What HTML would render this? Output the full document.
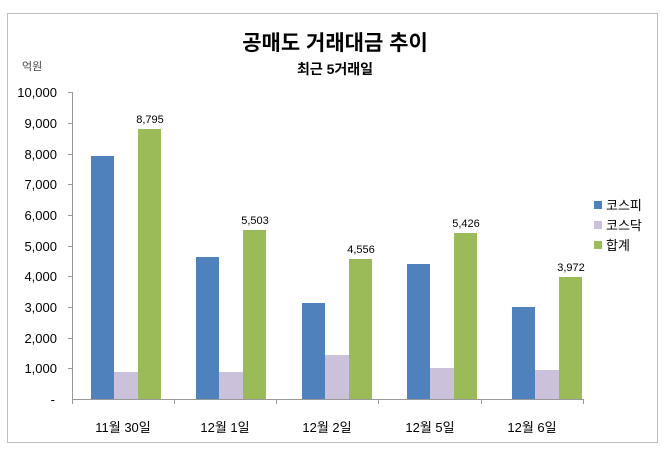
<!DOCTYPE html><html><head><meta charset="utf-8"><style>
body{margin:0;background:#fff;}
text{font-family:"Liberation Sans","Noto Sans CJK KR",sans-serif;}
</style></head><body>
<svg width="670" height="452" xmlns="http://www.w3.org/2000/svg">
<rect x="0" y="0" width="670" height="452" fill="#fff"/>
<rect x="7.5" y="13.5" width="650" height="429" fill="#fff" stroke="#bdbdbd" stroke-width="1"/>
<text x="335" y="50" text-anchor="middle" font-size="21" font-weight="bold" fill="#000">공매도 거래대금 추이</text>
<text x="335" y="74" text-anchor="middle" font-size="14" font-weight="bold" fill="#000">최근 5거래일</text>
<text x="22" y="70" font-size="11" fill="#444">억원</text>
<g stroke="#999" stroke-width="1">
<line x1="72.5" y1="92" x2="72.5" y2="399"/>
<line x1="72" y1="399.5" x2="583" y2="399.5"/>
<line x1="68" y1="92.5" x2="72" y2="92.5"/><line x1="68" y1="123.5" x2="72" y2="123.5"/><line x1="68" y1="154.5" x2="72" y2="154.5"/><line x1="68" y1="184.5" x2="72" y2="184.5"/><line x1="68" y1="215.5" x2="72" y2="215.5"/><line x1="68" y1="246.5" x2="72" y2="246.5"/><line x1="68" y1="276.5" x2="72" y2="276.5"/><line x1="68" y1="307.5" x2="72" y2="307.5"/><line x1="68" y1="338.5" x2="72" y2="338.5"/><line x1="68" y1="368.5" x2="72" y2="368.5"/>
<line x1="174.5" y1="399" x2="174.5" y2="404"/><line x1="276.5" y1="399" x2="276.5" y2="404"/><line x1="378.5" y1="399" x2="378.5" y2="404"/><line x1="481.5" y1="399" x2="481.5" y2="404"/><line x1="583.5" y1="399" x2="583.5" y2="404"/><line x1="72.5" y1="399" x2="72.5" y2="404"/>
</g>
<g font-size="13" fill="#000" text-anchor="end">
<text x="57" y="97">10,000</text><text x="57" y="128">9,000</text><text x="57" y="159">8,000</text><text x="57" y="189">7,000</text><text x="57" y="220">6,000</text><text x="57" y="251">5,000</text><text x="57" y="281">4,000</text><text x="57" y="312">3,000</text><text x="57" y="343">2,000</text><text x="57" y="373">1,000</text><text x="55" y="404">-</text>
</g>
<g>
<rect x="91" y="156" width="23" height="243" fill="#4f81bd"/><rect x="114" y="372" width="24" height="27" fill="#ccc1da"/><rect x="138" y="129" width="23" height="270" fill="#9bbb59"/>
<rect x="196" y="257" width="23" height="142" fill="#4f81bd"/><rect x="219" y="372" width="24" height="27" fill="#ccc1da"/><rect x="243" y="230" width="23" height="169" fill="#9bbb59"/>
<rect x="302" y="303" width="23" height="96" fill="#4f81bd"/><rect x="325" y="355" width="24" height="44" fill="#ccc1da"/><rect x="349" y="259" width="23" height="140" fill="#9bbb59"/>
<rect x="407" y="264" width="23" height="135" fill="#4f81bd"/><rect x="430" y="368" width="24" height="31" fill="#ccc1da"/><rect x="454" y="233" width="23" height="166" fill="#9bbb59"/>
<rect x="512" y="307" width="23" height="92" fill="#4f81bd"/><rect x="535" y="370" width="24" height="29" fill="#ccc1da"/><rect x="559" y="277" width="23" height="122" fill="#9bbb59"/>
</g>
<g font-size="11" fill="#000" text-anchor="middle">
<text x="150" y="123">8,795</text><text x="255" y="224">5,503</text><text x="361" y="253">4,556</text><text x="466" y="227">5,426</text><text x="571" y="271">3,972</text>
</g>
<g font-size="13" fill="#000" text-anchor="middle">
<text x="123" y="432">11월 30일</text><text x="225" y="432">12월 1일</text><text x="327" y="432">12월 2일</text><text x="430" y="432">12월 5일</text><text x="532" y="432">12월 6일</text>
</g>
<rect x="594" y="201" width="8" height="8" fill="#4f81bd"/><text x="606" y="210" font-size="13">코스피</text>
<rect x="594" y="221" width="8" height="8" fill="#ccc1da"/><text x="606" y="230" font-size="13">코스닥</text>
<rect x="594" y="241" width="8" height="8" fill="#9bbb59"/><text x="606" y="250" font-size="13">합계</text>
</svg>
</body></html>
